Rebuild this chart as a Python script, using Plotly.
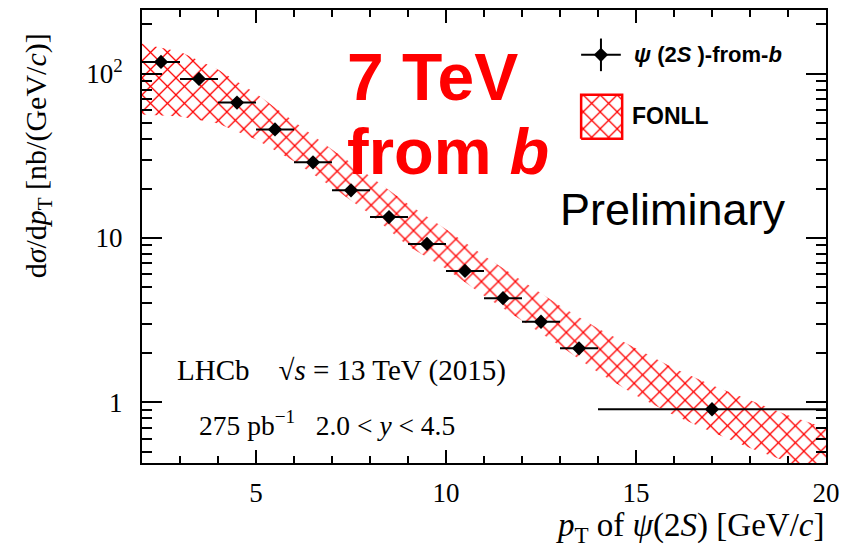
import plotly.graph_objects as go

# ---- data ----
pt_center = [2.5, 3.5, 4.5, 5.5, 6.5, 7.5, 8.5, 9.5, 10.5, 11.5, 12.5, 13.5, 17.0]
pt_halfwidth = [0.5] * 12 + [3.0]
xsec = [118, 93, 66.7, 45.8, 28.9, 19.5, 13.4, 9.2, 6.3, 4.3, 3.09, 2.13, 0.906]
xsec_err = [3.0, 2.2, 1.5, 1.0, 0.65, 0.45, 0.3, 0.2, 0.14, 0.1, 0.07, 0.05, 0.03]

fonll_x = [2, 3, 4, 5, 6, 7, 8, 9, 10, 11, 12, 13, 14, 15, 16, 17, 18, 19, 20]
fonll_up = [152, 136, 106, 75.7, 51.2, 34.6, 23.8, 16.1, 11.3, 7.79, 5.49, 3.87,
            2.81, 2.12, 1.61, 1.27, 1.03, 0.834, 0.695]
fonll_lo = [56.5, 54.9, 49.8, 39.8, 29.3, 20.4, 14.0, 8.95, 6.49, 4.45, 3.14, 2.21,
            1.52, 1.10, 0.834, 0.658, 0.526, 0.433, 0.346]

x_ticks = [5, 10, 15, 20]
y_ticks = [1, 10, 100]
y_ticktext = ["1", "10", "10<sup>2</sup>"]
y_minor = [0.5, 0.6, 0.7, 0.8, 0.9, 2, 3, 4, 5, 6, 7, 8, 9,
           20, 30, 40, 50, 60, 70, 80, 90, 200]

RED = "#ff0000"
pattern = dict(shape="x", fgcolor=RED, fgopacity=1, bgcolor="rgba(255,255,255,0)",
               size=12, solidity=0.2, fillmode="overlay")

fig = go.Figure()

# FONLL band
fig.add_trace(go.Scatter(
    x=fonll_x + fonll_x[::-1], y=fonll_up + fonll_lo[::-1],
    fill="toself", fillcolor="rgba(0,0,0,0)", fillpattern=pattern,
    line=dict(width=0), mode="lines", hoverinfo="skip", showlegend=False))

# data points
fig.add_trace(go.Scatter(
    x=pt_center, y=xsec, mode="markers",
    marker=dict(symbol="diamond", size=11, color="black"),
    error_x=dict(type="data", array=pt_halfwidth, color="black", thickness=2, width=0),
    error_y=dict(type="data", array=xsec_err, color="black", thickness=2, width=0),
    showlegend=False))

# ---- legend glyphs on an overlay axis in paper-fraction units ----
lg_mx, lg_my = 0.671, 0.901
fig.add_trace(go.Scatter(
    x=[lg_mx], y=[lg_my], xaxis="x2", yaxis="y2", mode="markers",
    marker=dict(symbol="diamond", size=11, color="black"),
    error_x=dict(type="constant", value=0.029, color="black", thickness=2, width=0),
    error_y=dict(type="constant", value=0.036, color="black", thickness=2, width=0),
    showlegend=False, hoverinfo="skip"))
bx0, bx1, by0, by1 = 0.642, 0.702, 0.716, 0.813
fig.add_trace(go.Scatter(
    x=[bx0, bx1, bx1, bx0, bx0], y=[by0, by0, by1, by1, by0],
    xaxis="x2", yaxis="y2", fill="toself", fillcolor="rgba(0,0,0,0)",
    fillpattern=pattern, line=dict(color=RED, width=2.5), mode="lines",
    showlegend=False, hoverinfo="skip"))

serif = "Liberation Serif, Times New Roman, serif"
sans = "Liberation Sans, Arial, sans-serif"

fig.update_layout(
    width=859, height=547,
    margin=dict(l=142, r=33, t=8, b=84),
    paper_bgcolor="white", plot_bgcolor="white",
    showlegend=False,
    xaxis=dict(range=[2, 20], showline=True, linecolor="black", linewidth=2,
               mirror="allticks", ticks="inside", ticklen=13, tickwidth=2,
               tickcolor="black", tickvals=x_ticks, showgrid=False, zeroline=False,
               tickfont=dict(family=serif, size=27, color="black"),
               ticklabelstandoff=5,
               minor=dict(ticks="inside", ticklen=7, tickwidth=2, tickcolor="black",
                          dtick=1, tick0=0, showgrid=False)),
    yaxis=dict(type="log", range=[-0.370, 2.388], showline=True, linecolor="black",
               linewidth=2, mirror="allticks", ticks="inside", ticklen=20, tickwidth=2,
               tickcolor="black", tickvals=y_ticks, ticktext=y_ticktext,
               showgrid=False, zeroline=False,
               tickfont=dict(family=serif, size=27, color="black"),
               ticklabelstandoff=12,
               minor=dict(ticks="inside", ticklen=10, tickwidth=2, tickcolor="black",
                          tickvals=y_minor, showgrid=False)),
    xaxis2=dict(overlaying="x", range=[0, 1], visible=False, anchor="y2"),
    yaxis2=dict(overlaying="y", range=[0, 1], visible=False, anchor="x2"),
)

ann = [
    dict(text="d<i>σ</i>/d<i>p</i><sub>T</sub> [nb/(GeV/<i>c</i>)]", x=-0.152, y=0.677,
         textangle=-90, font=dict(family=serif, size=30, color="black")),
    dict(text="<i>p</i><sub>T</sub> of <i>ψ</i>(2<i>S</i>) [GeV/<i>c</i>]", x=1.0, y=-0.142,
         xanchor="right", font=dict(family=serif, size=33, color="black")),
    dict(text="LHCb    √<i>s</i> = 13 TeV (2015)", x=0.291, y=0.204,
         font=dict(family=serif, size=29, color="black")),
    dict(text="275 pb<sup>−1</sup>   2.0 < <i>y</i> < 4.5", x=0.270, y=0.088,
         font=dict(family=serif, size=27.5, color="black")),
    dict(text="<b>7 TeV</b>", x=0.297, y=0.853, xanchor="left",
         font=dict(family=sans, size=66, color=RED)),
    dict(text="<b>from <i>b</i></b>", x=0.297, y=0.688, xanchor="left",
         font=dict(family=sans, size=65, color=RED)),
    dict(text="Preliminary", x=0.608, y=0.560, xanchor="left",
         font=dict(family=sans, size=45, color="black")),
    dict(text="<b><i>ψ</i> (2<i>S</i> )-from-<i>b</i></b>", x=0.716, y=0.901, xanchor="left",
         font=dict(family=sans, size=22, color="black")),
    dict(text="<b>FONLL</b>", x=0.713, y=0.765, xanchor="left",
         font=dict(family=sans, size=23, color="black")),
]
for a in ann:
    a.setdefault("xanchor", "center")
    a.setdefault("yanchor", "middle")
    fig.add_annotation(xref="paper", yref="paper", showarrow=False, **a)

fig.write_html("out.html")
